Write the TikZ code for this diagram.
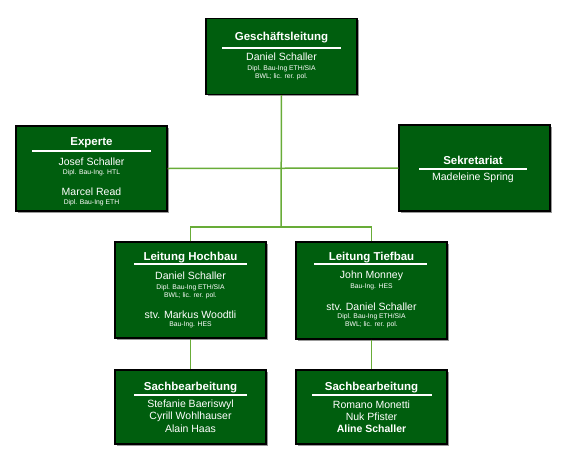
\documentclass[tikz,border=0pt]{standalone}
\usepackage{fontspec}
\setmainfont{Liberation Sans}
\usetikzlibrary{positioning,shadows}
\definecolor{boxgreen}{RGB}{0,94,14}
\definecolor{linkgreen}{RGB}{104,172,56}

\begin{document}
\begin{tikzpicture}[x=1pt,y=-1pt,
  orgbox/.style={draw=black,line width=1.2pt,fill=boxgreen,minimum width=151pt,inner sep=0pt,
    drop shadow={shadow xshift=1.8pt,shadow yshift=-1.8pt,fill=black!40,opacity=1}},
  head/.style={text=white,font=\fontsize{11.5}{13}\selectfont\bfseries,inner sep=0pt},
  person/.style={text=white,font=\fontsize{10.5}{12}\selectfont,inner sep=0pt},
  degree/.style={text=white,font=\fontsize{6.8}{8}\selectfont,align=center,inner sep=0pt},
  headrule/.style={white,line width=1.2pt},
  link/.style={draw=linkgreen,line width=1.5pt}]
\useasboundingbox (0,0) rectangle (565,461);

% boxes
\node[orgbox,minimum height=76pt] (gl) at (281.5,56.5) {};
\node[orgbox,minimum height=85pt] (exp) at (91.5,168.5) {};
\node[orgbox,minimum height=86pt] (sek) at (474.5,168) {};
\node[orgbox,minimum height=96pt] (hb) at (190.5,290) {};
\node[orgbox,minimum height=97pt] (tb) at (371.5,290.5) {};
\node[orgbox,minimum height=74pt] (sbh) at (190.5,407) {};
\node[orgbox,minimum height=74pt] (sbt) at (371.5,407) {};

% connectors
\coordinate (fork) at (281,227);
\draw[link] (gl.south) -- (fork);
\draw[link] (exp.east) -- (sek.west);
\draw[link] (hb.north) |- (fork) -| (tb.north);
\draw[link] (hb.south) -- (sbh.north);
\draw[link] (tb.south) -- (sbt.north);

% Geschaeftsleitung
\node[head] (gl-t) at (281.5,38) {Geschäftsleitung};
\draw[headrule] (222,48) -- (341,48);
\node[person] (gl-n) at (281.5,57) {Daniel Schaller};
\node[degree] (gl-d) at (281.5,73) {Dipl. Bau-Ing ETH/SIA\\BWL; lic. rer. pol.};

% Experte
\node[head] (exp-t) at (91.5,143) {Experte};
\draw[headrule] (32,151) -- (151,151);
\node[person] (exp-n1) at (91.5,162) {Josef Schaller};
\node[degree] (exp-d1) at (91.5,173) {Dipl. Bau-Ing. HTL};
\node[person] (exp-n2) at (91.5,192) {Marcel Read};
\node[degree] (exp-d2) at (91.5,203) {Dipl. Bau-Ing ETH};

% Sekretariat
\node[head] (sek-t) at (473,160) {Sekretariat};
\draw[headrule] (419,169) -- (527,169);
\node[person] (sek-n) at (473,177.5) {Madeleine Spring};

% Leitung Hochbau
\node[head] (hb-t) at (190.5,258) {Leitung Hochbau};
\draw[headrule] (134,264) -- (247,264);
\node[person] (hb-n1) at (190.5,276) {Daniel Schaller};
\node[degree] (hb-d1) at (190.5,291.5) {Dipl. Bau-Ing ETH/SIA\\BWL; lic. rer. pol.};
\node[person] (hb-n2) at (190.5,315) {stv. Markus Woodtli};
\node[degree] (hb-d2) at (190.5,324.5) {Bau-Ing. HES};

% Leitung Tiefbau
\node[head] (tb-t) at (371.5,258) {Leitung Tiefbau};
\draw[headrule] (314,264) -- (427,264);
\node[person] (tb-n1) at (371.5,276) {John Monney};
\node[degree] (tb-d1) at (371.5,287) {Bau-Ing. HES};
\node[person] (tb-n2) at (371.5,307) {stv. Daniel Schaller};
\node[degree] (tb-d2) at (371.5,321) {Dipl. Bau-Ing ETH/SIA\\BWL; lic. rer. pol.};

% Sachbearbeitung Hochbau
\node[head] (sbh-t) at (190.5,388) {Sachbearbeitung};
\draw[headrule] (134,395) -- (247,395);
\node[person] (sbh-n1) at (190.5,405) {Stefanie Baeriswyl};
\node[person] (sbh-n2) at (190.5,417) {Cyrill Wohlhauser};
\node[person] (sbh-n3) at (190.5,429) {Alain Haas};

% Sachbearbeitung Tiefbau
\node[head] (sbt-t) at (371.5,388) {Sachbearbeitung};
\draw[headrule] (312,395) -- (432,395);
\node[person] (sbt-n1) at (371.5,405) {Romano Monetti};
\node[person] (sbt-n2) at (371.5,417) {Nuk Pfister};
\node[person,font=\fontsize{10.5}{12}\selectfont\bfseries] (sbt-n3) at (371.5,429) {Aline Schaller};
\end{tikzpicture}
\end{document}
